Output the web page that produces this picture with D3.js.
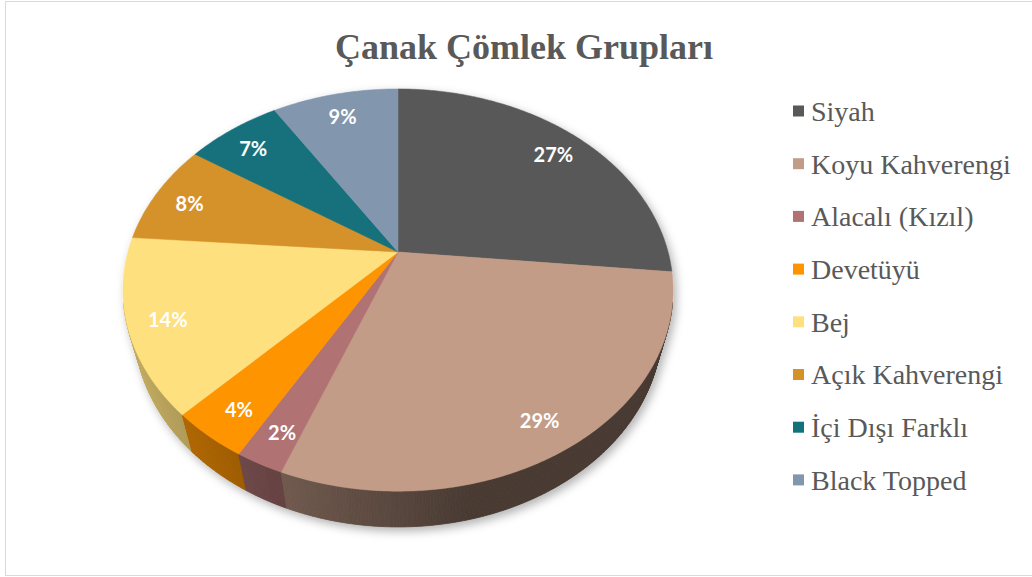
<!DOCTYPE html>
<html>
<head>
<meta charset="utf-8">
<script src="https://cdn.jsdelivr.net/npm/d3@7"></script>
<style>
  body { margin: 0; background: #fff; }
</style>
</head>
<body>
<script>
// data (shares in %)
var categories = ["Siyah", "Koyu Kahverengi", "Alacalı (Kızıl)", "Devetüyü", "Bej", "Açık Kahverengi", "İçi Dışı Farklı", "Black Topped"];
var values = [26.6, 29.2, 2.4, 3.9, 14.1, 8.2, 6.7, 8.9];
var colors = ["#595959", "#c39c88", "#b07272", "#fe9400", "#fee07f", "#d69229", "#13717b", "#8296ae"];
var title = "Çanak Çömlek Grupları";

var width = 1032, height = 577;

var svg = d3.select("body").append("svg")
    .attr("width", width)
    .attr("height", height);

// frame
svg.append("rect")
    .attr("x", 5.5).attr("y", 1.5)
    .attr("width", 1030).attr("height", 574)
    .attr("fill", "#fff")
    .attr("stroke", "#d9d9d9");

svg.append("text")
    .attr("x", 524).attr("y", 59)
    .attr("text-anchor", "middle")
    .attr("font-family", "Liberation Serif, serif")
    .attr("font-weight", "bold")
    .attr("font-size", 36)
    .attr("fill", "#595959")
    .text(title);

// simple perspective camera for the 3d pie
var cx = 398, cy = 252, f = 994, D = 3.68,
    sinT = 0.718, cosT = 0.696, depthH = 0.216;

function proj(x, y, z) {
    var up = y * cosT - z * sinT;
    var dist = D - (z * cosT + y * sinT);
    return [cx + f * x / dist, cy - f * up / dist];
}
function rim(a, y) { return proj(Math.sin(a), y, -Math.cos(a)); }

var color = d3.scaleOrdinal(categories, colors);
var total = d3.sum(values);
var arcs = d3.pie().sort(null).value(function(d) { return d; })(values);
var line = d3.line();

var defs = svg.append("defs");
var shadow = defs.append("filter").attr("id", "shadow")
    .attr("x", "-20%").attr("y", "-20%").attr("width", "140%").attr("height", "140%");
shadow.append("feDropShadow")
    .attr("dx", 3).attr("dy", 4)
    .attr("stdDeviation", 5)
    .attr("flood-color", "#000")
    .attr("flood-opacity", 0.3);

var pie = svg.append("g").attr("filter", "url(#shadow)");

// side wall, built from thin quads, back to front
var step = Math.PI / 360;
var quads = [];
arcs.forEach(function(d, i) {
    for (var a = d.startAngle; a < d.endAngle - 1e-9; a += step) {
        var b = Math.min(a + step, d.endAngle);
        var m = (a + b) / 2;
        var z = -Math.cos(m);
        if (z < 0.25) continue;
        var nx = Math.sin(m);
        var k = Math.max(0.37, 0.45 - 0.35 * nx);
        quads.push({ a: a, b: b, z: z, fill: d3.interpolateRgb("#000", colors[i])(k) });
    }
});
quads.sort(function(p, q) { return p.z - q.z; });

pie.selectAll(".wall")
    .data(quads)
    .enter().append("path")
    .attr("class", "wall")
    .attr("d", function(q) {
        return line([rim(q.a, 0), rim(q.b, 0), rim(q.b, -depthH), rim(q.a, -depthH)]) + "Z";
    })
    .attr("fill", function(q) { return q.fill; })
    .attr("stroke", function(q) { return q.fill; })
    .attr("stroke-width", 0.8);

// top face
pie.selectAll(".slice")
    .data(arcs)
    .enter().append("path")
    .attr("class", "slice")
    .attr("d", function(d) {
        var pts = [proj(0, 0, 0)];
        var n = Math.max(2, Math.ceil((d.endAngle - d.startAngle) / step));
        for (var j = 0; j <= n; j++) {
            pts.push(rim(d.startAngle + (d.endAngle - d.startAngle) * j / n, 0));
        }
        return line(pts) + "Z";
    })
    .attr("fill", function(d, i) { return color(categories[i]); })
    .attr("stroke", function(d, i) { return color(categories[i]); })
    .attr("stroke-width", 0.5);

// percent labels
var pct = d3.format(".0%");
svg.selectAll(".lbl")
    .data(arcs)
    .enter().append("text")
    .attr("class", "lbl")
    .attr("transform", function(d) {
        var m = (d.startAngle + d.endAngle) / 2;
        var r = 0.86;
        var p = proj(r * Math.sin(m), 0, -r * Math.cos(m));
        return "translate(" + p[0] + "," + (p[1] + 4) + ")";
    })
    .attr("dy", "0.35em")
    .attr("text-anchor", "middle")
    .attr("font-family", "Lato, sans-serif")
    .attr("font-weight", "bold")
    .attr("font-size", 20)
    .attr("fill", "#fff")
    .text(function(d) { return pct(d.value / total); });

// legend
var legend = svg.selectAll(".leg")
    .data(categories)
    .enter().append("g")
    .attr("class", "leg")
    .attr("transform", function(d, i) { return "translate(793," + (111 + i * 52.7) + ")"; });

legend.append("rect")
    .attr("x", 0).attr("y", -5.5)
    .attr("width", 11).attr("height", 11)
    .attr("fill", function(d) { return color(d); });

legend.append("text")
    .attr("x", 18)
    .attr("dy", "0.35em")
    .attr("font-family", "Liberation Serif, serif")
    .attr("font-size", 28)
    .attr("fill", "#595959")
    .text(function(d) { return d; });
</script>
</body>
</html>
